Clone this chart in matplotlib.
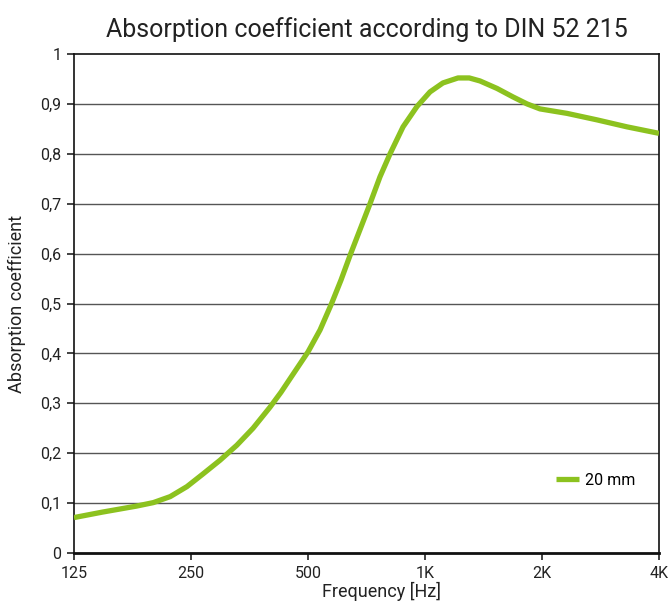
import matplotlib.pyplot as plt
import numpy as np

# frequency (Hz) and absorption values
freqs = [125, 148, 181, 200, 221, 244, 268, 297, 328, 361, 399, 426, 452,
         500, 537, 575, 608, 644, 689, 722, 766, 813, 878, 954, 1030,
         1112, 1216, 1300, 1385, 1532, 1684, 1830, 1976, 2320, 2770, 3309, 4000]
alpha = [0.071, 0.082, 0.094, 0.101, 0.113, 0.133, 0.158, 0.186, 0.216,
         0.25, 0.292, 0.322, 0.352, 0.403, 0.447, 0.50, 0.547, 0.60, 0.659,
         0.70, 0.754, 0.80, 0.854, 0.895, 0.924, 0.942, 0.952, 0.952, 0.946,
         0.931, 0.914, 0.90, 0.89, 0.881, 0.868, 0.854, 0.841]

xticks = [125, 250, 500, 1000, 2000, 4000]
xlabels = ["125", "250", "500", "1K", "2K", "4K"]
yticks = np.round(np.arange(0, 1.01, 0.1), 1)
ylabels = [("%g" % v).replace(".", ",") for v in yticks]

plt.rcParams["font.family"] = ["Roboto", "DejaVu Sans"]

fig = plt.figure(figsize=(6.68, 6.02), dpi=100)
ax = fig.add_axes([74 / 668, 1 - 553 / 602, 585 / 668, 499 / 602])

ax.set_xscale("log", base=2)
ax.set_xlim(125, 4000)
ax.set_ylim(0, 1)

# horizontal grid lines
for v in yticks[1:-1]:
    ax.axhline(v, color="#555555", lw=1.0, zorder=1)

ax.plot(freqs, alpha, color="#8cc21f", lw=3.8, solid_capstyle="butt",
        solid_joinstyle="round", label="20 mm", zorder=3)

ax.set_xticks(xticks)
ax.set_xticklabels(xlabels)
ax.minorticks_off()
ax.set_yticks(yticks)
ax.set_yticklabels(ylabels)
ax.tick_params(axis="both", direction="out", length=5, width=1.2,
               labelsize=11.5, colors="#222222", pad=4)

for s in ax.spines.values():
    s.set_linewidth(1.2)
    s.set_color("#111111")
ax.spines["bottom"].set_linewidth(2)

ax.set_title("Absorption coefficient according to DIN 52 215",
             fontsize=18, pad=12, color="#222222")
ax.set_ylabel("Absorption coefficient", fontsize=13, color="#222222", labelpad=10)
fig.text(382 / 668, 1 / 602, "Frequency [Hz]", ha="center", va="bottom",
         fontsize=13, color="#222222")

ax.legend(loc="center left", bbox_to_anchor=(0.8, 0.146), frameon=False,
          fontsize=11.5, handlelength=1.4, handletextpad=0.4)

fig.savefig("out.png", dpi=100)
